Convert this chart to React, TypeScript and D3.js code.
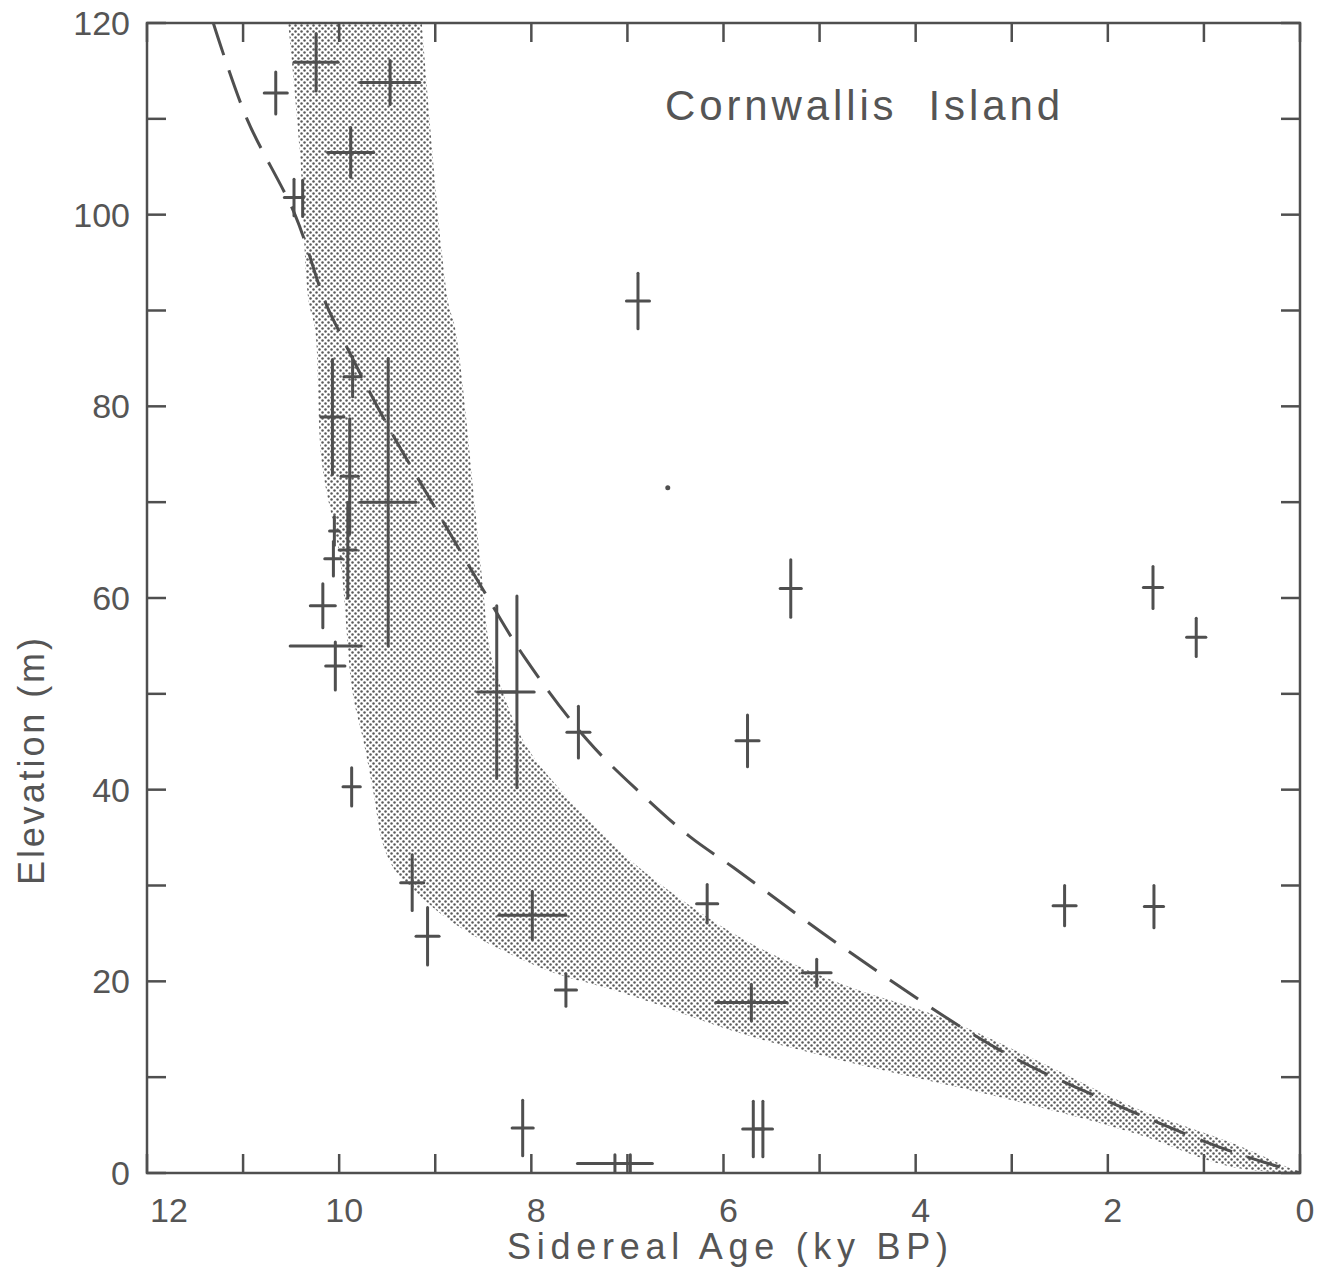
import React from "react";
import * as d3 from "d3";

// ---- data ----
const xTicks = [12, 11, 10, 9, 8, 7, 6, 5, 4, 3, 2, 1, 0];
const xLabels = [12, 10, 8, 6, 4, 2, 0];
const yTicks = [0, 10, 20, 30, 40, 50, 60, 70, 80, 90, 100, 110, 120];
const yLabels = [0, 20, 40, 60, 80, 100, 120];

// age (ky BP), elevation (m), age error, elevation error
const pointAge = [10.66, 10.24, 9.47, 9.88, 10.47, 10.38, 10.07, 9.86, 9.89, 9.49, 10.05, 9.91, 10.06, 10.17, 10.14, 10.04, 9.87, 9.24, 9.08, 8.36, 8.15, 7.51, 7.99, 7.64, 6.89, 5.3, 5.75, 6.17, 5.03, 5.71, 1.53, 1.08, 2.45, 1.52, 8.09, 7.13, 6.97, 5.69, 5.59];
const pointElev = [112.7, 115.9, 113.8, 106.5, 101.8, 101.7, 78.9, 83.1, 72.7, 70.0, 67.0, 65.0, 64.1, 59.2, 55.0, 52.9, 40.3, 30.3, 24.7, 50.2, 50.2, 46.0, 26.9, 19.1, 91.0, 61.0, 45.1, 28.1, 20.9, 17.8, 61.1, 55.9, 27.9, 27.8, 4.7, 1.0, 1.0, 4.6, 4.6];
const pointAgeErr = [0.12, 0.23, 0.31, 0.24, 0.1, 0.0, 0.12, 0.09, 0.09, 0.29, 0.05, 0.09, 0.09, 0.13, 0.37, 0.1, 0.09, 0.12, 0.12, 0.2, 0.18, 0.12, 0.35, 0.11, 0.12, 0.11, 0.12, 0.11, 0.15, 0.37, 0.1, 0.1, 0.12, 0.1, 0.11, 0.39, 0.15, 0.11, 0.1];
const pointElevErr = [2.2, 3.0, 2.3, 2.6, 1.9, 1.9, 6.0, 2.1, 6.0, 15.0, 1.5, 5.0, 1.8, 2.3, 0.0, 2.5, 2.0, 2.9, 3.0, 9.0, 10.0, 2.7, 2.5, 1.7, 2.9, 3.0, 2.7, 2.0, 1.4, 1.9, 2.2, 2.0, 2.1, 2.2, 2.9, 0.9, 0.9, 2.9, 2.9];

// stray dot
const speckAge = [6.58];
const speckElev = [71.5];

// dashed emergence curve
const curveAge = [11.31, 10.96, 10.46, 10.15, 9.99, 9.54, 9.03, 8.51, 8.07, 7.42, 6.87, 6.35, 5.9, 4.68, 3.12, 1.84, 0.7, 0.0];
const curveElev = [120, 110, 100, 91, 87.6, 78.8, 69.9, 61, 53.8, 45.2, 39.7, 35.1, 31.9, 23, 12.8, 6.8, 2.2, 0];

// shaded band: upper/right edge and lower/left edge (top to bottom)
const bandUpperAge = [9.14, 8.87, 8.79, 8.53, 8.5, 8.43, 8.27, 8.05, 7.7, 7.29, 6.87, 5.83, 4.79, 3.75, 2.71, 1.74, 0.7, 0.0];
const bandUpperElev = [120, 91.1, 88.0, 63.7, 60.8, 54.6, 49.4, 44.5, 40.0, 35.8, 31.8, 24.6, 19.8, 16.3, 11.6, 6.9, 3.1, 0];
const bandLowerAge = [10.53, 10.41, 10.32, 10.25, 10.18, 9.99, 9.86, 9.75, 9.64, 9.55, 9.42, 9.23, 8.95, 8.64, 8.25, 7.77, 7.25, 6.87, 5.83, 4.79, 3.12, 1.74, 0.7, 0.0];
const bandLowerElev = [120, 106.8, 91.1, 88.0, 74.1, 64.0, 50.1, 45.2, 39.5, 34.5, 31.6, 29.6, 27.1, 25.0, 23.0, 20.9, 19.4, 18.2, 14.6, 11.8, 7.9, 4.2, 0.6, 0];

const W = 1322;
const H = 1273;
const L = 147, R = 1300, T = 23, B = 1173;
const INK = "#4f4f4f";
const FONT = "'Liberation Sans', Arial, sans-serif";

export default function App() {
  const x = d3.scaleLinear().domain([12, 0]).range([L, R]);
  const y = d3.scaleLinear().domain([0, 120]).range([B, T]);

  const curvePts: [number, number][] = curveAge.map((a, i) => [a, curveElev[i]]);
  const dashed = d3
    .line<[number, number]>()
    .x((d) => x(d[0]))
    .y((d) => y(d[1]))
    .curve(d3.curveCatmullRom.alpha(0.5))(curvePts) || "";

  const upper: [number, number][] = bandUpperAge.map((a, i) => [a, bandUpperElev[i]]);
  const lower: [number, number][] = bandLowerAge.map((a, i) => [a, bandLowerElev[i]]);
  const edge = d3
    .line<[number, number]>()
    .x((d) => x(d[0]))
    .y((d) => y(d[1]))
    .curve(d3.curveCatmullRom.alpha(0.5));
  const upperPath = edge(upper) || "";
  const lowerPath = edge(lower.slice().reverse()) || "";
  const bandPath = upperPath + "L" + lowerPath.slice(1) + "Z";

  const TL = 19;
  const labelX = (t: number) => (t === 12 ? x(t) + 22 : x(t) + 5);

  return (
    <svg
      width={W}
      height={H}
      style={{ position: "absolute", left: 0, top: 0, background: "#fff" }}
      xmlns="http://www.w3.org/2000/svg"
    >
      <defs>
        <pattern id="stip" width="6" height="6" patternUnits="userSpaceOnUse">
          <circle cx="1.5" cy="1.5" r="1.25" fill="#5a5a5a" />
          <circle cx="4.5" cy="4.5" r="1.25" fill="#5a5a5a" />
        </pattern>
        <clipPath id="plotclip">
          <rect x={L} y={T} width={R - L} height={B - T} />
        </clipPath>
      </defs>
      <rect x={0} y={0} width={W} height={H} fill="#fff" />

      <g clipPath="url(#plotclip)">
        <path d={bandPath} fill="url(#stip)" stroke="none" />
        <path d={dashed} fill="none" stroke={INK} strokeWidth={3} strokeDasharray="34 16" />
      </g>

      {/* error-bar crosses */}
      <g stroke={INK} strokeWidth={3} strokeLinecap="round">
        {pointAge.map((a, i) => {
          const cx = x(a);
          const cy = y(pointElev[i]);
          const hx = pointAgeErr[i];
          const hy = pointElevErr[i];
          return (
            <g key={i}>
              {hx > 0 && <line x1={x(a + hx)} x2={x(a - hx)} y1={cy} y2={cy} />}
              {hy > 0 && <line x1={cx} x2={cx} y1={y(pointElev[i] + hy)} y2={y(pointElev[i] - hy)} />}
            </g>
          );
        })}
      </g>
      {speckAge.map((a, i) => (
        <circle key={i} cx={x(a)} cy={y(speckElev[i])} r={2.5} fill={INK} />
      ))}

      {/* frame */}
      <rect x={L} y={T} width={R - L} height={B - T} fill="none" stroke={INK} strokeWidth={2.5} />
      <g stroke={INK} strokeWidth={2.5}>
        {xTicks.map((t) => (
          <g key={"xt" + t}>
            <line x1={x(t)} x2={x(t)} y1={B} y2={B - TL} />
            <line x1={x(t)} x2={x(t)} y1={T} y2={T + TL} />
          </g>
        ))}
        {yTicks.map((t) => (
          <g key={"yt" + t}>
            <line x1={L} x2={L + TL} y1={y(t)} y2={y(t)} />
            <line x1={R} x2={R - TL} y1={y(t)} y2={y(t)} />
          </g>
        ))}
      </g>

      {/* tick labels */}
      <g fill="#555" fontFamily={FONT} fontSize={34}>
        {xLabels.map((t) => (
          <text key={"xl" + t} x={labelX(t)} y={1222} textAnchor="middle">
            {t}
          </text>
        ))}
        {yLabels.map((t) => (
          <text key={"yl" + t} x={130} y={y(t) + 12} textAnchor="end">
            {t}
          </text>
        ))}
      </g>

      {/* axis titles */}
      <text
        x={507}
        y={1259}
        fill="#555"
        fontFamily={FONT}
        fontSize={36}
        textLength={441}
        lengthAdjust="spacing"
      >
        Sidereal Age (ky BP)
      </text>
      <text
        transform={`translate(44, 885) rotate(-90)`}
        x={0}
        y={0}
        fill="#555"
        fontFamily={FONT}
        fontSize={36}
        textLength={247}
        lengthAdjust="spacing"
      >
        Elevation (m)
      </text>

      <text
        x={665}
        y={120}
        fill="#555"
        fontFamily={FONT}
        fontSize={42}
        textLength={395}
        lengthAdjust="spacing"
        style={{ whiteSpace: "pre" }}
      >
        {"Cornwallis  Island"}
      </text>
    </svg>
  );
}
